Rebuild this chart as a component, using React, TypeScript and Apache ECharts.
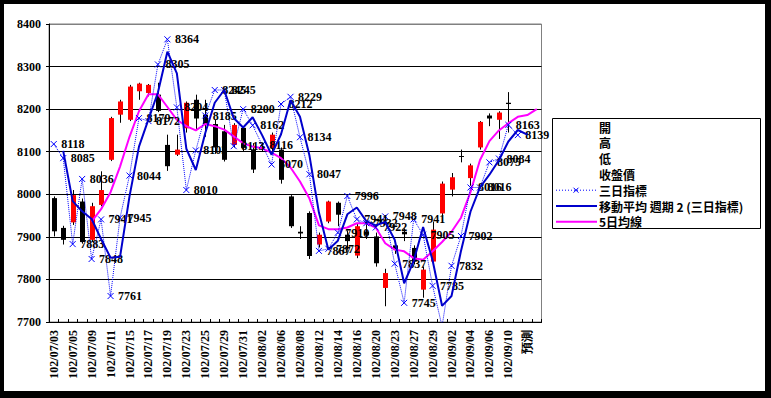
import React, { useEffect, useRef } from "react";
import * as echarts from "echarts";

const categories = [
  "102/07/03","102/07/04","102/07/05","102/07/08","102/07/09","102/07/10","102/07/11","102/07/12",
  "102/07/15","102/07/16","102/07/17","102/07/18","102/07/19","102/07/22","102/07/23","102/07/24",
  "102/07/25","102/07/26","102/07/29","102/07/30","102/07/31","102/08/01","102/08/02","102/08/05",
  "102/08/06","102/08/07","102/08/08","102/08/09","102/08/12","102/08/13","102/08/14","102/08/15",
  "102/08/16","102/08/19","102/08/20","102/08/22","102/08/23","102/08/26","102/08/27","102/08/28",
  "102/08/29","102/08/30","102/09/02","102/09/03","102/09/04","102/09/05","102/09/06","102/09/09",
  "102/09/10","102/09/11","預測","",
];

// [open, close, low, high]
const ohlc: (number[] | null)[] = [
  [7991, 7913, 7901, 7995], [7921, 7893, 7882, 7926], [7934, 7998, 7928, 8010], [7983, 7888, 7884, 7990],
  [7893, 7972, 7888, 7980], [7975, 8010, 7972, 8054], [8081, 8179, 8078, 8182], [8187, 8218, 8168, 8222],
  [8175, 8253, 8172, 8257], [8242, 8260, 8222, 8262], [8238, 8257, 8230, 8259], [8234, 8196, 8193, 8262],
  [8116, 8066, 8055, 8140], [8093, 8105, 8090, 8140], [8155, 8215, 8145, 8218], [8222, 8178, 8152, 8234],
  [8187, 8165, 8135, 8222], [8165, 8110, 8095, 8175], [8148, 8081, 8077, 8163], [8116, 8163, 8110, 8167],
  [8156, 8109, 8101, 8160], [8105, 8058, 8050, 8120], [8112, 8108, 8100, 8120], [8109, 8140, 8100, 8145],
  [8105, 8034, 8025, 8110], [7995, 7925, 7921, 7998], [7912, 7908, 7895, 7925], [7956, 7855, 7848, 7960],
  [7882, 7905, 7875, 7910], [7936, 7983, 7932, 7985], [7980, 7952, 7925, 7983], [7905, 7890, 7870, 7915],
  [7856, 7925, 7850, 7930], [7912, 7905, 7895, 7935], [7901, 7838, 7830, 7910], [7780, 7815, 7737, 7825],
  [7880, 7870, 7860, 7890], [7912, 7906, 7890, 7920], [7874, 7842, 7835, 7880], [7776, 7823, 7757, 7830],
  [7842, 7917, 7836, 7936], [7955, 8025, 7948, 8030], [8011, 8040, 7995, 8050], [8090, 8088, 8075, 8105],
  [8038, 8068, 8020, 8072], [8110, 8170, 8105, 8172], [8185, 8178, 8160, 8190], [8175, 8192, 8130, 8195],
  [8215, 8212, 8145, 8240], null, null, null,
];

const threeDay: (number | null)[] = [
  8118, 8085, 7883, 8036, 7848, 7941, 7761, 7945, 8044, 8179, 8172, 8305, 8364, 8204, 8010, 8103,
  8185, 8245, 8245, 8113, 8200, 8162, 8116, 8070, 8212, 8229, 8134, 8047, 7867, 7872, 7910, 7996,
  7941, 7932, 7922, 7948, 7837, 7745, 7941, 7905, 7785, 7690, 7832, 7902, 8016, 8016, 8075, 8084,
  8163, 8139, null, null,
];

const movAvg2: (number | null)[] = [
  null, 8102, 7984, 7960, 7942, 7895, 7851, 7853, 7995, 8112, 8176, 8239, 8335, 8284, 8107, 8057,
  8144, 8215, 8245, 8179, 8157, 8181, 8139, 8093, 8141, 8221, 8182, 8091, 7957, 7870, 7891, 7953,
  7969, 7937, 7927, 7935, 7893, 7791, 7843, 7923, 7845, 7738, 7761, 7867, 7959, 8016, 8046, 8080,
  8124, 8151, 8140, null,
];

const ma5: (number | null)[] = [
  null, null, null, null, 7936, 7965, 8005, 8065, 8135, 8195, 8235, 8235, 8205, 8175, 8160, 8150,
  8165, 8160, 8152, 8136, 8120, 8112, 8108, 8098, 8085, 8063, 8030, 7990, 7927, 7918, 7918, 7922,
  7932, 7932, 7922, 7885, 7870, 7866, 7850, 7846, 7866, 7888, 7912, 7945, 8005, 8080, 8125, 8150,
  8167, 8182, 8186, 8200,
];

const yTicks = { min: 7700, max: 8400, step: 100 };

const legendItems = ["開", "高", "低", "收盤價", "三日指標", "移動平均 週期 2 (三日指標)", "5日均線"];

const SERIF = "'Liberation Serif', 'DejaVu Serif', serif";
const CJK = "'Noto Sans CJK TC', 'Noto Sans CJK JP', sans-serif";

export default function App() {
  const ref = useRef<HTMLDivElement>(null);
  useEffect(() => {
    document.body.style.margin = "0";
    const chart = echarts.init(ref.current!, null, { renderer: "svg" });
    const candleData = ohlc.map((d, i) => (d ? [i, d[0], d[1], d[2], d[3]] : [i, null, null, null, null]));
    const legendTop = 118;
    const rowH = 15.8;
    const legendGraphics: any[] = [
      { type: "rect", shape: { x: 552.5, y: legendTop + 0.5, width: 208, height: 110 }, style: { fill: "#fff", stroke: "#000", lineWidth: 1 }, z: 100 },
    ];
    legendItems.forEach((t, k) => {
      legendGraphics.push({
        type: "text", x: 599, y: legendTop + 9 + k * rowH, z: 101,
        style: { text: t, fill: "#000", font: `bold 12px ${CJK}`, textVerticalAlign: "middle" },
      });
    });
    const yy = (k: number) => legendTop + 9 + k * rowH;
    legendGraphics.push(
      { type: "line", z: 101, shape: { x1: 556, y1: yy(4), x2: 597, y2: yy(4) }, style: { stroke: "#0000ff", lineWidth: 1, lineDash: [1, 2] } },
      { type: "line", z: 101, shape: { x1: 573.5, y1: yy(4) - 2.5, x2: 578.5, y2: yy(4) + 2.5 }, style: { stroke: "#0000ff", lineWidth: 1 } },
      { type: "line", z: 101, shape: { x1: 578.5, y1: yy(4) - 2.5, x2: 573.5, y2: yy(4) + 2.5 }, style: { stroke: "#0000ff", lineWidth: 1 } },
      { type: "line", z: 101, shape: { x1: 556, y1: yy(5), x2: 597, y2: yy(5) }, style: { stroke: "#0000cc", lineWidth: 2 } },
      { type: "line", z: 101, shape: { x1: 556, y1: yy(6), x2: 597, y2: yy(6) }, style: { stroke: "#ff00ff", lineWidth: 2 } },
    );

    chart.setOption({
      animation: false,
      backgroundColor: "#000",
      graphic: [
        { type: "rect", z: -10, silent: true, shape: { x: 4, y: 4, width: 761, height: 387 }, style: { fill: "#fff" } },
        ...legendGraphics,
      ],
      grid: { left: 49, top: 24, width: 492.5, height: 298, show: true, borderColor: "#808080", borderWidth: 1, backgroundColor: "transparent" },
      xAxis: {
        type: "category",
        data: categories,
        boundaryGap: true,
        axisLine: { lineStyle: { color: "#000", width: 1 } },
        axisTick: { show: true, inside: true, length: 3, interval: 0, lineStyle: { color: "#000" } },
        axisLabel: { interval: 1, rotate: 90, color: "#000", fontFamily: SERIF, fontSize: 12, fontWeight: "bold", margin: 8 },
        splitLine: { show: false },
      },
      yAxis: {
        type: "value",
        min: yTicks.min,
        max: yTicks.max,
        interval: yTicks.step,
        axisLine: { show: true, lineStyle: { color: "#000" } },
        axisTick: { show: true, length: 3, lineStyle: { color: "#000" } },
        axisLabel: { color: "#000", fontFamily: SERIF, fontSize: 12, fontWeight: "bold", margin: 8, formatter: (v: number) => String(v) },
        splitLine: { show: true, lineStyle: { color: ["#000", "#000", "#000", "#000", "#000", "#000", "#000", "#808080"], width: 1 } },
      },
      series: [
        {
          type: "custom",
          name: "K",
          clip: true,
          data: candleData,
          encode: { x: 0, y: [1, 2, 3, 4] },
          renderItem: (params: any, api: any) => {
            const o = api.value(1);
            if (o === null || o === undefined || isNaN(o)) return null;
            const i = api.value(0);
            const c = api.value(2), l = api.value(3), h = api.value(4);
            const po = api.coord([i, o]);
            const pc = api.coord([i, c]);
            const pl = api.coord([i, l]);
            const ph = api.coord([i, h]);
            const w = 5;
            const x = Math.round(po[0]) + 0.5;
            const top = Math.min(po[1], pc[1]);
            const hgt = Math.max(Math.abs(po[1] - pc[1]), 1);
            return {
              type: "group",
              children: [
                { type: "line", shape: { x1: x, y1: ph[1], x2: x, y2: pl[1] }, style: { stroke: "#000", lineWidth: 1 } },
                { type: "rect", shape: { x: x - w / 2, y: top, width: w, height: hgt }, style: { fill: c >= o ? "#ff0000" : "#000" } },
              ],
            };
          },
          z: 2,
        },
        {
          type: "line",
          name: "三日指標",
          data: threeDay,
          clip: true,
          symbol: "path://M0,0L10,10M10,0L0,10",
          symbolSize: 6,
          showAllSymbol: true,
          lineStyle: { color: "#0000ff", width: 1, type: "dotted" },
          itemStyle: { color: "#0000ff", borderColor: "#0000ff", borderWidth: 1 },
          label: { show: true, position: "right", distance: 4, color: "#000", fontFamily: SERIF, fontSize: 12, fontWeight: "bold" },
          z: 4,
        },
        {
          type: "line",
          name: "移動平均 週期 2 (三日指標)",
          data: movAvg2,
          clip: true,
          symbol: "none",
          lineStyle: { color: "#0000cc", width: 2 },
          z: 5,
        },
        {
          type: "line",
          name: "5日均線",
          data: ma5,
          clip: true,
          symbol: "none",
          lineStyle: { color: "#ff00ff", width: 2 },
          z: 3,
        },
      ],
    });
    return () => chart.dispose();
  }, []);
  return <div ref={ref} style={{ width: 771, height: 398 }} />;
}
